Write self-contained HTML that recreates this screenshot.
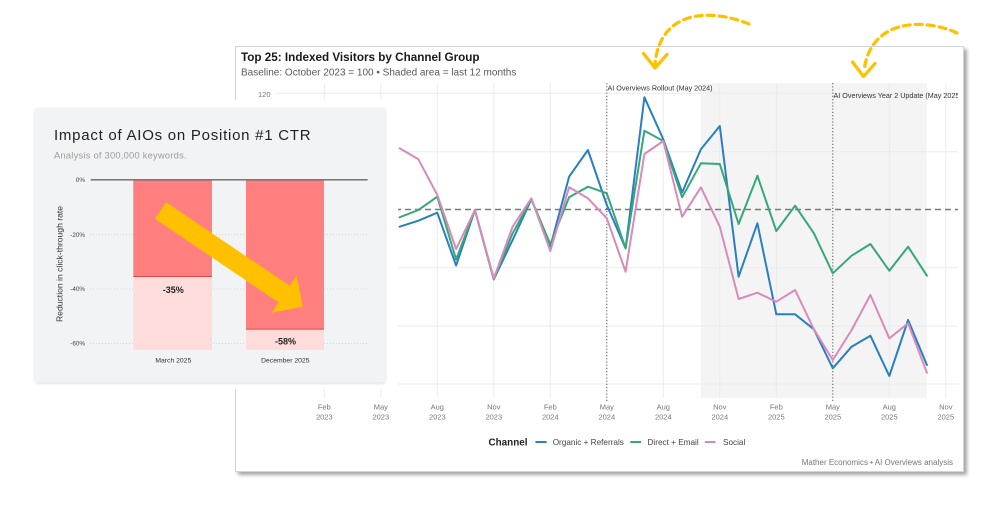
<!DOCTYPE html>
<html><head><meta charset="utf-8"><style>
html,body{margin:0;padding:0;background:#fff;}
svg{display:block;font-family:"Liberation Sans",Arial,sans-serif;}
</style></head><body>
<svg width="998" height="514" viewBox="0 0 998 514" xmlns="http://www.w3.org/2000/svg">
<defs>
<filter id="sh" x="-5%" y="-5%" width="115%" height="120%"><feDropShadow dx="3" dy="3" stdDeviation="1.8" flood-color="#000" flood-opacity="0.35"/></filter>
<filter id="sh2" x="-5%" y="-5%" width="110%" height="110%"><feDropShadow dx="0" dy="1" stdDeviation="1.2" flood-color="#000" flood-opacity="0.15"/></filter>
<clipPath id="pc"><rect x="275" y="83" width="683" height="320"/></clipPath>
</defs>
<rect width="998" height="514" fill="#fff"/>
<!-- chart card -->
<rect x="235.5" y="46.5" width="728" height="425" fill="#fff" stroke="#d4d4d4" stroke-width="1" filter="url(#sh)"/>
<text x="241" y="61" font-size="11.7" font-weight="bold" fill="#1a1a1a">Top 25: Indexed Visitors by Channel Group</text>
<text x="241" y="75.5" font-size="10" fill="#595959">Baseline: October 2023 = 100 • Shaded area = last 12 months</text>
<!-- shaded -->
<rect x="700.9" y="83" width="226" height="315" fill="#f4f4f4"/>
<!-- grid -->
<g stroke="#ebebeb" stroke-width="1">
<line x1="275" x2="958" y1="93.3" y2="93.3"/>
<line x1="275" x2="958" y1="151.7" y2="151.7"/>
<line x1="275" x2="958" y1="267.7" y2="267.7"/>
<line x1="275" x2="958" y1="326" y2="326"/>
<line x1="275" x2="958" y1="384" y2="384"/>
<line x1="324.3" x2="324.3" y1="83" y2="398"/>
<line x1="380.8" x2="380.8" y1="83" y2="398"/>
<line x1="437.3" x2="437.3" y1="83" y2="398"/>
<line x1="493.8" x2="493.8" y1="83" y2="398"/>
<line x1="550.3" x2="550.3" y1="83" y2="398"/>
<line x1="663.3" x2="663.3" y1="83" y2="398"/>
<line x1="719.8" x2="719.8" y1="83" y2="398"/>
<line x1="776.3" x2="776.3" y1="83" y2="398"/>
<line x1="889.3" x2="889.3" y1="83" y2="398"/>
<line x1="945.8" x2="945.8" y1="83" y2="398"/>
</g>
<line x1="275" x2="958" y1="209.5" y2="209.5" stroke="#7a7a7a" stroke-width="1.5" stroke-dasharray="6 4"/>
<g stroke="#555" stroke-width="1" stroke-dasharray="1.2 2">
<line x1="606.8" x2="606.8" y1="83" y2="401"/>
<line x1="832.8" x2="832.8" y1="83" y2="401"/>
</g>
<g clip-path="url(#pc)" font-size="7.2" fill="#333">
<text x="607.5" y="90.5">AI Overviews Rollout (May 2024)</text>
<text x="833.5" y="98">AI Overviews Year 2 Update (May 2025)</text>
</g>
<g clip-path="url(#pc)" fill="none" stroke-width="2" stroke-linejoin="round" stroke-linecap="round">
<polyline stroke="#2a7fc0" points="399.6,226.7 418.4,220.7 437.3,212.7 456.1,265.5 474.9,210 493.8,279.3 512.6,240 531.4,199.3 550.3,246.7 569.1,176.7 587.9,150 606.8,205 625.6,248.3 644.4,97.3 663.3,139.3 682.1,192.5 700.9,149.3 719.8,126 738.6,276.7 757.4,223.3 776.3,314.3 795.1,314.3 813.9,329.3 832.8,368.3 851.6,346.7 870.4,335.7 889.3,376 908.1,320 926.9,365"/>
<polyline stroke="#36a878" points="399.6,217.3 418.4,210 437.3,196.7 456.1,259.5 474.9,210 493.8,279.3 512.6,233.3 531.4,199.3 550.3,244.3 569.1,197.3 587.9,186.7 606.8,193.3 625.6,248.3 644.4,130.7 663.3,141 682.1,197.3 700.9,163.3 719.8,164 738.6,224 757.4,175.7 776.3,231 795.1,205.7 813.9,233.3 832.8,273.3 851.6,255.7 870.4,244 889.3,270.7 908.1,246.7 926.9,275.7"/>
<polyline stroke="#d98abd" points="399.6,148.3 418.4,159.3 437.3,195 456.1,249 474.9,210 493.8,278.3 512.6,226.7 531.4,198.3 550.3,251 569.1,187.3 587.9,198.3 606.8,218.3 625.6,271.7 644.4,154 663.3,141 682.1,216.7 700.9,187.3 719.8,226.7 738.6,299 757.4,292.7 776.3,301.7 795.1,290 813.9,329.3 832.8,360 851.6,330 870.4,295 889.3,338.3 908.1,323.3 926.9,372.7"/>
</g>
<text x="270.5" y="96.8" font-size="7.5" fill="#777" text-anchor="end">120</text>
<g font-size="7.5" fill="#777" text-anchor="middle">
<text x="324.3" y="409.5">Feb</text><text x="324.3" y="419.5">2023</text>
<text x="380.8" y="409.5">May</text><text x="380.8" y="419.5">2023</text>
<text x="437.3" y="409.5">Aug</text><text x="437.3" y="419.5">2023</text>
<text x="493.8" y="409.5">Nov</text><text x="493.8" y="419.5">2023</text>
<text x="550.3" y="409.5">Feb</text><text x="550.3" y="419.5">2024</text>
<text x="606.8" y="409.5">May</text><text x="606.8" y="419.5">2024</text>
<text x="663.3" y="409.5">Aug</text><text x="663.3" y="419.5">2024</text>
<text x="719.8" y="409.5">Nov</text><text x="719.8" y="419.5">2024</text>
<text x="776.3" y="409.5">Feb</text><text x="776.3" y="419.5">2025</text>
<text x="832.8" y="409.5">May</text><text x="832.8" y="419.5">2025</text>
<text x="889.3" y="409.5">Aug</text><text x="889.3" y="419.5">2025</text>
<text x="945.8" y="409.5">Nov</text><text x="945.8" y="419.5">2025</text>
</g>
<!-- legend -->
<text x="488.5" y="445.5" font-size="9.9" font-weight="bold" fill="#222">Channel</text>
<line x1="535.4" x2="546.6" y1="442" y2="442" stroke="#2a7fc0" stroke-width="2"/>
<text x="552.7" y="445" font-size="8.2" fill="#444">Organic + Referrals</text>
<line x1="630.3" x2="641" y1="442" y2="442" stroke="#36a878" stroke-width="2"/>
<text x="647.5" y="445" font-size="8.2" fill="#444">Direct + Email</text>
<line x1="704.8" x2="715.6" y1="442" y2="442" stroke="#d98abd" stroke-width="2"/>
<text x="723" y="445" font-size="8.2" fill="#444">Social</text>
<text x="953" y="465" font-size="8" fill="#777" text-anchor="end">Mather Economics • AI Overviews analysis</text>

<!-- white overlay behind left card -->
<rect x="222" y="100" width="176" height="289" fill="#fff"/>
<!-- left card -->
<rect x="35" y="107.5" width="350.5" height="275" rx="3" fill="#f2f3f5" filter="url(#sh2)"/>
<text x="54" y="140" font-size="15" letter-spacing="0.75" fill="#222">Impact of AIOs on Position #1 CTR</text>
<text x="54" y="158.3" font-size="9.3" letter-spacing="0.25" fill="#9a9a9a">Analysis of 300,000 keywords.</text>
<!-- bar chart grid -->
<g stroke="#cfcfcf" stroke-width="0.8" stroke-dasharray="1 2">
<line x1="90" x2="368" y1="234.7" y2="234.7"/>
<line x1="90" x2="368" y1="289" y2="289"/>
<line x1="90" x2="368" y1="343.3" y2="343.3"/>
</g>
<g font-size="6.3" fill="#444" text-anchor="end">
<text x="85" y="182.2">0%</text>
<text x="85" y="236.9">-20%</text>
<text x="85" y="291.2">-40%</text>
<text x="85" y="345.5">-60%</text>
</g>
<!-- bars -->
<rect x="133.3" y="180" width="78.7" height="170" fill="#ffdcdc"/>
<rect x="133.3" y="180" width="78.7" height="96.7" fill="#ff7f7f"/>
<line x1="133.3" x2="212" y1="276.5" y2="276.5" stroke="#e04848" stroke-width="1"/>
<rect x="246" y="180" width="78" height="170" fill="#ffdcdc"/>
<rect x="246" y="180" width="78" height="149.3" fill="#ff7f7f"/>
<line x1="246" x2="324" y1="329.1" y2="329.1" stroke="#e04848" stroke-width="1"/>
<line x1="90.7" x2="367.7" y1="179.8" y2="179.8" stroke="#666" stroke-width="1.3"/>
<text x="173.3" y="293" font-size="9" font-weight="bold" fill="#222" text-anchor="middle">-35%</text>
<text x="285.5" y="344.5" font-size="9" font-weight="bold" fill="#222" text-anchor="middle">-58%</text>
<g font-size="6.8" fill="#333" text-anchor="middle">
<text x="173.3" y="362.5">March 2025</text>
<text x="285.3" y="362.5">December 2025</text>
</g>
<text transform="translate(62.5,264) rotate(-90)" font-size="8.6" fill="#333" text-anchor="middle">Reduction in click-through rate</text>
<!-- yellow arrow -->
<polygon fill="#ffc000" points="154.9,218.8 166.1,202.2 289.7,285.8 296.7,275.5 302.7,306.7 271.5,312.7 278.5,302.4"/>
<!-- curved dashed arrows -->
<g fill="none" stroke="#ffc000" stroke-width="3.2" stroke-linecap="round" stroke-linejoin="round">
<path d="M749 24 C710 8 660 10 655 64" stroke-dasharray="7 5"/>
<polyline points="643.5,53.5 655,68 667,54.5"/>
<path d="M957 33 C925 18 870 18 864 71" stroke-dasharray="7 5"/>
<polyline points="852.5,62 863.5,76.5 875,63.5"/>
</g>
</svg>
</body></html>
